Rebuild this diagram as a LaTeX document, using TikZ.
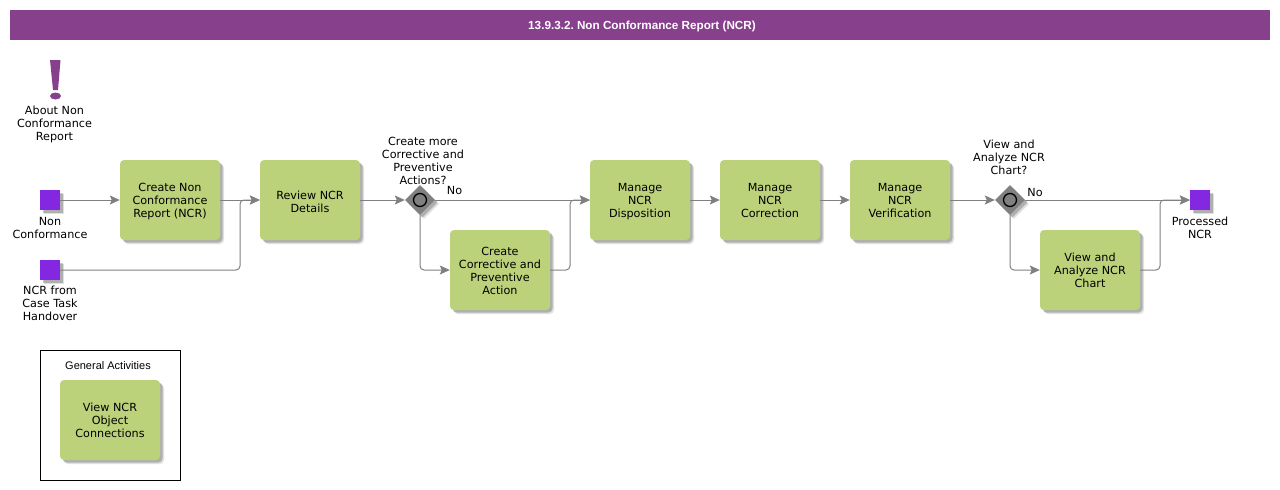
\documentclass[tikz,border=0pt]{standalone}
\usepackage{fontspec}
\setmainfont{DejaVu Sans}
\newfontfamily\headfont{Liberation Sans}
\usepackage{xcolor}
\definecolor{Col1}{RGB}{135,64,139}
\definecolor{Col2}{RGB}{187,210,123}
\definecolor{Col3}{RGB}{131,40,224}
\definecolor{Col4}{RGB}{128,128,128}
\usetikzlibrary{shapes.geometric}
\usetikzlibrary{shadows}
\usetikzlibrary{arrows.meta}
\newcommand{\TopGap}[1][13.5pt]{\rule{0pt}{#1}}
\tikzstyle{Shade}=[general shadow={shadow xshift=4pt,shadow yshift=-4pt,
fill=black,opacity=.12},general shadow={shadow xshift=2.5pt,shadow yshift=-2.5pt,
fill=black,opacity=.22}]
\tikzstyle{Task}=[rectangle,rounded corners=4pt,fill=Col2,minimum width=100pt,
minimum height=80pt,inner sep=0pt,align=center,text=black,Shade,
font=\fontsize{11.2}{13}\selectfont,execute at end node={\strut}]
\tikzstyle{Event}=[rectangle,fill=Col3,minimum size=20pt,inner sep=0pt,Shade]
\tikzstyle{Gate}=[diamond,fill=Col4,minimum size=30pt,inner sep=0pt,Shade]
\tikzstyle{Mark}=[circle,draw=black,fill=Col4,line width=1.3pt,minimum size=13pt,
inner sep=0pt]
\tikzstyle{Edge}=[draw=Col4,line width=1pt,rounded corners=4pt,
-{Stealth[length=10pt,width=9pt,inset=2pt]}]
\tikzstyle{NodeST}=[align=center,inner sep=0pt,font=\fontsize{11.2}{13}\selectfont]
\begin{document}
\begin{tikzpicture}[x=1pt,y=-1pt]
            \useasboundingbox(0,0)rectangle(1280,490);
            \node[fill=Col1,minimum width=1260pt,minimum height=30pt,inner sep=0pt]
                (title)at(640,25){};
            \node[inner sep=0pt,text=white,font=\frenchspacing\headfont\bfseries\fontsize{11.7}{14}\selectfont]
                (titletext)at(642,26){13.9.3.2. Non Conformance Report (NCR)};
            % exclamation mark
            \fill[Col1](50,60)--(60.5,60)--(58,90)--(53,90)--cycle;
            \fill[Col1](55.5,96)ellipse(5.5pt and 3.5pt);
            \node[NodeST](about)at(54.5,124){About Non\\Conformance\\Report};
            %
            \node[Event](0)at(50,200){};
            \node[Event](1)at(50,270){};
            \node[Task](2)at(170,200){\TopGap Create Non\\Conformance\\Report (NCR)};
            \node[Task](3)at(310,200){\TopGap[16.3pt]Review NCR\\Details};
            \node[Gate](4)at(420,200){};
            \node[Mark](4m)at(420,200){};
            \node[Task](5)at(500,270){\TopGap Create\\Corrective and\\Preventive\\Action};
            \node[Task](6)at(640,200){\TopGap Manage\\NCR\\Disposition};
            \node[Task](7)at(770,200){\TopGap Manage\\NCR\\Correction};
            \node[Task](8)at(900,200){\TopGap Manage\\NCR\\Verification};
            \node[Gate](9)at(1010,200){};
            \node[Mark](9m)at(1010,200){};
            \node[Task](10)at(1090,270){\TopGap View and\\Analyze NCR\\Chart};
            \node[Event](11)at(1200,200){};
            %
            \node[NodeST](l0)at(50,227.5){Non\\Conformance};
            \node[NodeST](l1)at(50,303){NCR from\\Case Task\\Handover};
            \node[NodeST](l4)at(423,160.5){Create more\\Corrective and\\Preventive\\Actions?};
            \node[NodeST](l9)at(1009,157){View and\\Analyze NCR\\Chart?};
            \node[NodeST](l11)at(1200,227.5){Processed\\NCR};
            \node[NodeST](no4)at(454.5,190){No};
            \node[NodeST](no9)at(1035,192){No};
            %
            \coordinate(j3)at(240,200);
            \coordinate(j6)at(570,200);
            \coordinate(j11)at(1160,200);
            \draw[Edge](0.east)--(2.west);
            \draw[Edge](2.east)--(3.west);
            \draw[Edge](1.east)-|(j3)--(3.west);
            \draw[Edge](3.east)--(4.west);
            \draw[Edge](4.east)--(6.west);
            \draw[Edge](4.south)|-(5.west);
            \draw[Edge](5.east)-|(j6)--(6.west);
            \draw[Edge](6.east)--(7.west);
            \draw[Edge](7.east)--(8.west);
            \draw[Edge](8.east)--(9.west);
            \draw[Edge](9.east)--(11.west);
            \draw[Edge](9.south)|-(10.west);
            \draw[Edge](10.east)-|(j11)--(11.west);
            %
            \node[draw=black,line width=1pt,minimum width=140pt,minimum height=130pt,
                inner sep=0pt](group)at(110.5,415.5){};
            \node[inner sep=0pt,font=\headfont\fontsize{11}{13}\selectfont](grouplabel)
                at(108,366){General Activities};
            \node[Task](12)at(110,420){\TopGap View NCR\\Object\\Connections};
\end{tikzpicture}
\end{document}
